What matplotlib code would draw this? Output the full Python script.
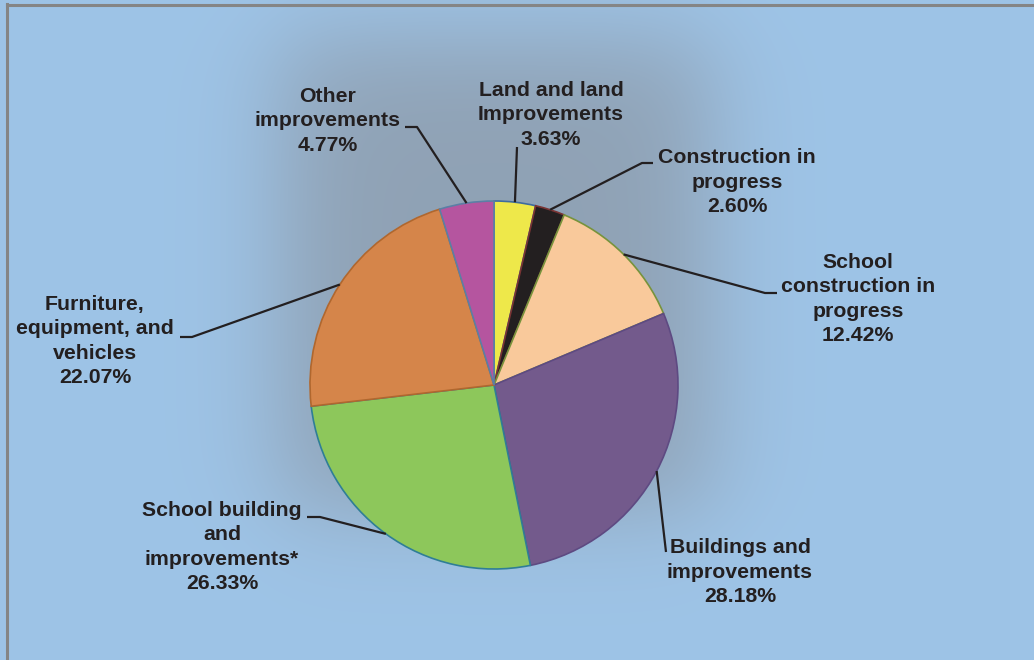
import numpy as np
from matplotlib import pyplot as plt

# data
labels = ['Land and land\nImprovements', 'Construction in\nprogress',
          'School\nconstruction in\nprogress', 'Buildings and\nimprovements',
          'School building\nand\nimprovements*', 'Furniture,\nequipment, and\nvehicles',
          'Other\nimprovements']
shares = [3.63, 2.60, 12.42, 28.18, 26.33, 22.07, 4.77]
colors = ['#EEE84A', '#231F20', '#F9C99B', '#735A8C', '#8DC75B', '#D5854A', '#B5559F']
edges = ['#3F6C9E', '#7A3434', '#77933C', '#5E4A82', '#2F7E96', '#B0672E', '#5B7FA5']

W, H = 1034, 660
# label block centre and leader elbow/end in pixel coords
label_pos = [(551, 115), (737, 182), (858, 299), (740, 572), (222, 547), (95, 341), (328, 121)]
leader_pts = [[(517, 147)],
              [(642, 163), (653, 163)],
              [(765, 293), (777, 293)],
              [(666, 552)],
              [(320, 517), (307, 517)],
              [(192, 337), (180, 337)],
              [(417, 127), (405, 127)]]


def main():
    fig = plt.figure(figsize=(W / 100, H / 100), dpi=100)
    ax = fig.add_axes([0, 0, 1, 1])

    # background with soft shadow behind the pie
    xs = np.arange(W)
    ys = np.arange(H)
    s = 60.0
    mx = 0.5 * (np.tanh((xs - 280) / s) - np.tanh((xs - 710) / s))
    my = 0.5 * (np.tanh((ys - 150) / s) - np.tanh((ys - 620) / s))
    a = (my[:, None] * mx[None, :]) * 0.95
    base = np.array([158, 196, 231]) / 255
    shade = np.array([143, 160, 178]) / 255
    img = base[None, None, :] * (1 - a[..., None]) + shade[None, None, :] * a[..., None]
    ax.imshow(img, extent=(0, W, H, 0), origin='upper', zorder=0, aspect='auto')

    # frame lines (left and top)
    ax.plot([7, 7], [0, H - 4], color='#858585', lw=2.2, zorder=1)
    ax.plot([7, W], [H - 4.5, H - 4.5], color='#858585', lw=2.2, zorder=1)

    cx, cy, r = 494, H - 385, 184
    wedges, _ = ax.pie(shares, colors=colors, startangle=90, counterclock=False,
                       center=(cx, cy), radius=r, frame=True,
                       wedgeprops=dict(linewidth=1.2))
    for w, ec in zip(wedges, edges):
        w.set_edgecolor(ec)
        w.set_zorder(2)
    ax.set_xlim(0, W)
    ax.set_ylim(0, H)
    ax.set_aspect('auto')
    ax.axis('off')

    for w, lab, val, (tx, ty), pts in zip(wedges, labels, shares, label_pos, leader_pts):
        mid = np.deg2rad((w.theta1 + w.theta2) / 2)
        px = cx + r * np.cos(mid)
        py = cy + r * np.sin(mid)
        lx = [px] + [p[0] for p in pts]
        ly = [py] + [H - p[1] for p in pts]
        ax.plot(lx, ly, color='#231F20', lw=1.6, zorder=3, solid_capstyle='butt')
        ax.text(tx, H - ty, f'{lab}\n{val:.2f}%', ha='center', va='center',
                fontsize=15.3, fontweight='bold', color='#231F20',
                family=['Liberation Sans', 'DejaVu Sans'], linespacing=1.36,
                zorder=4)

    fig.savefig('out.png', dpi=100)


if __name__ == '__main__':
    main()
